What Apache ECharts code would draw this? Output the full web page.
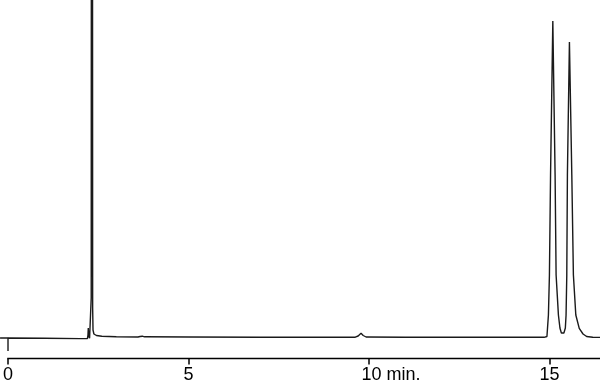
<!DOCTYPE html>
<html>
<head>
<meta charset="utf-8">
<script src="https://cdn.jsdelivr.net/npm/echarts@6/dist/echarts.min.js"></script>
<style>
html,body{margin:0;padding:0;background:#fff;}
#chart{width:600px;height:389px;}
</style>
</head>
<body>
<div id="chart"></div>
<script>
// Retention time (min) and detector signal (arbitrary units)
var timeMin = [
  -0.22, 0, 0, 0, 1.0, 2.0, 2.20, 2.215, 2.224, 2.235, 2.26, 2.29, 2.305, 2.325, 2.345, 2.355,
  2.38, 2.45, 2.6, 3.0, 3.60, 3.66, 3.69, 3.72, 3.78, 5.0, 7.0, 9.0, 9.62, 9.70, 9.78, 9.84,
  9.92, 11.0, 13.0, 14.85, 14.93, 14.971, 14.999, 15.03, 15.093, 15.156, 15.184, 15.248, 15.29,
  15.33, 15.366, 15.40, 15.44, 15.46, 15.48, 15.497, 15.553, 15.619, 15.663, 15.73, 15.825,
  15.93, 16.03, 16.2, 16.41
];
var signal = [
  0, 0, -13, 0, -0.3, -0.6, -0.6, 3, 10, 2, -0.3, 0, 40, 2000, 30, 8,
  4, 2.5, 1.8, 1.3, 1, 1.5, 3.5, 1.8, 1.2, 1, 0.8, 0.7, 0.8, 2, 4.7, 2.5,
  1, 0.7, 0.7, 0.7, 1.5, 23, 63, 163, 317, 163, 63, 23, 10,
  5, 3.7, 5, 10, 23, 63, 163, 296, 163, 63, 23, 9.7,
  4, 1.5, 0.8, 0.6
];
var tickValues = [0, 5, 10, 15];
var tickLabels = ['0', '5', '10 min.', '15'];
var axisStart = 0;      // time axis line begins at 0 min
var axisEnd = 16.4;     // right end of the time axis
var viewStart = -0.22;  // trace begins slightly before injection

var data = timeMin.map(function (t, i) { return [t, signal[i]]; });

var chart = echarts.init(document.getElementById('chart'), null, {renderer: 'canvas'});
var fontFamily = 'Liberation Sans, Arial, sans-serif';
var axisOffset = 6.5;
var axisColor = '#000';
var axisWidth = 1.5;
chart.setOption({
  animation: false,
  backgroundColor: '#fff',
  grid: {left: 0, right: 0, top: 0, bottom: 37, containLabel: false},
  xAxis: {
    type: 'value',
    min: viewStart,
    max: axisEnd,
    offset: axisOffset,
    splitLine: {show: false},
    axisLine: {show: false, onZero: false},
    axisTick: {show: true, inside: false, length: 6, customValues: tickValues, lineStyle: {color: axisColor, width: axisWidth}},
    axisLabel: {
      show: true,
      customValues: tickValues,
      margin: 7.5,
      fontFamily: fontFamily,
      fontSize: 18,
      color: '#000',
      formatter: function (v) {
        var idx = tickValues.indexOf(v);
        var s = idx >= 0 ? tickLabels[idx] : '';
        if (s.indexOf(' ') > 0) return '{m|' + s + '}';
        return s;
      },
      rich: {
        m: {fontFamily: fontFamily, fontSize: 18, color: '#000', padding: [0, 0, 0, 44]}
      }
    }
  },
  yAxis: {
    type: 'value',
    min: -14,
    max: 338,
    show: false,
    splitLine: {show: false}
  },
  series: [{
    type: 'line',
    data: data,
    showSymbol: false,
    symbol: 'none',
    clip: false,
    lineStyle: {color: '#1a1a1a', width: 1.4},
    silent: true
  }]
});

// Axis line from 0 min to the right end, placed where the x axis sits
var yMin = chart.getModel().getComponent('yAxis', 0).axis.scale.getExtent()[0];
var pA = chart.convertToPixel({xAxisIndex: 0, yAxisIndex: 0}, [axisStart, yMin]);
var pB = chart.convertToPixel({xAxisIndex: 0, yAxisIndex: 0}, [axisEnd, yMin]);
var ly = pA[1] + axisOffset;
chart.setOption({
  graphic: [{
    type: 'line',
    silent: true,
    shape: {x1: pA[0] - axisWidth / 2, y1: ly, x2: pB[0], y2: ly},
    style: {stroke: axisColor, lineWidth: axisWidth}
  }]
});
</script>
</body>
</html>
